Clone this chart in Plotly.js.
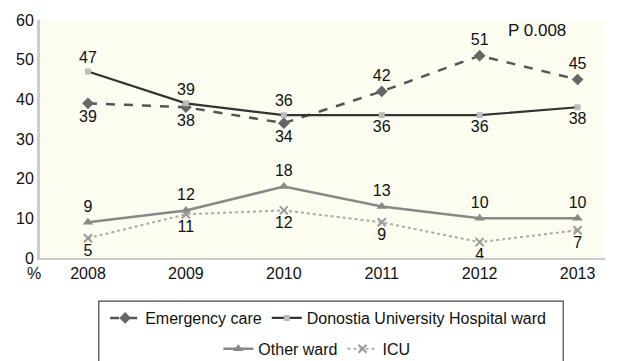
<!DOCTYPE html>
<html><head><meta charset="utf-8">
<script src="https://cdn.plot.ly/plotly-3.0.1.min.js"></script>
<style>body{margin:0}#c{width:617px;height:361px}</style>
</head><body><div id="c"></div>
<script>
var years = ['2008','2009','2010','2011','2012','2013'];
var emergency = [39, 38, 34, 42, 51, 45];
var donostia = [47, 39, 36, 36, 36, 38];
var otherWard = [9, 12, 18, 13, 10, 10];
var icu = [5, 11, 12, 9, 4, 7];
var emergencyPos = ['bottom center','bottom center','bottom center','top center','top center','top center'];
var donostiaPos = ['top center','top center','top center','bottom center','bottom center','bottom center'];

var f = {family:'Liberation Sans, Arial, sans-serif', size:16, color:'#111'};
function tr(name, y, pos, line, marker, legend){
  return {x: years, y: y, name: name, type:'scatter', mode:'lines+markers+text',
    text: y.map(String), textposition: pos, textfont: f, line: line, marker: marker,
    legend: legend, cliponaxis:false};
}
var data = [
  tr('Emergency care', emergency, emergencyPos, {color:'#555', width:2.5, dash:'dash'}, {symbol:'diamond', size:9, color:'#666'}, 'legend'),
  tr('Donostia University Hospital ward', donostia, donostiaPos, {color:'#333', width:2.2}, {symbol:'square', size:6, color:'#bbb'}, 'legend'),
  tr('Other ward', otherWard, 'top center', {color:'#888', width:2.5}, {symbol:'triangle-up', size:9, color:'#888'}, 'legend2'),
  tr('ICU', icu, 'bottom center', {color:'#aaa', width:2, dash:'dot'}, {symbol:'x-thin-open', size:8, color:'#999', line:{width:2,color:'#999'}}, 'legend2')
];
var layout = {
  width:617, height:361,
  margin:{l:40, r:12, t:20, b:103, autoexpand:false},
  paper_bgcolor:'#fff', plot_bgcolor:'#fcfcf1',
  font: f,
  showlegend:true,
  xaxis:{type:'category', range:[-0.49, 5.28], showgrid:false, zeroline:false,
    showline:true, linecolor:'#ccc', linewidth:2, ticks:'', tickfont:f},
  yaxis:{range:[0,60], dtick:10, showgrid:false, zeroline:false, showline:true,
    linecolor:'#ccc', linewidth:3, ticks:'', tickfont:f},
  legend:{orientation:'h', x:0.51, xanchor:'center', y:-0.252, yanchor:'middle',
    font:f, bgcolor:'rgba(0,0,0,0)', borderwidth:0, itemwidth:30},
  legend2:{orientation:'h', x:0.49, xanchor:'center', y:-0.382, yanchor:'middle',
    font:f, bgcolor:'rgba(0,0,0,0)', borderwidth:0, itemwidth:30},
  shapes:[{type:'rect', xref:'paper', yref:'paper', x0:0.104, x1:0.926, y0:-0.5, y1:-0.181,
    line:{color:'#444', width:1.2}, fillcolor:'rgba(0,0,0,0)'}],
  annotations:[
    {text:'P 0.008', xref:'paper', yref:'paper', x:0.88, y:0.955, xanchor:'center', yanchor:'middle', showarrow:false, font:{family:f.family, size:17, color:'#111'}},
    {text:'%', xref:'paper', yref:'paper', x:-0.011, y:-0.065, xanchor:'center', yanchor:'middle', showarrow:false, font:f}
  ]
};
Plotly.newPlot('c', data, layout, {displayModeBar:false, staticPlot:true});
</script></body></html>
